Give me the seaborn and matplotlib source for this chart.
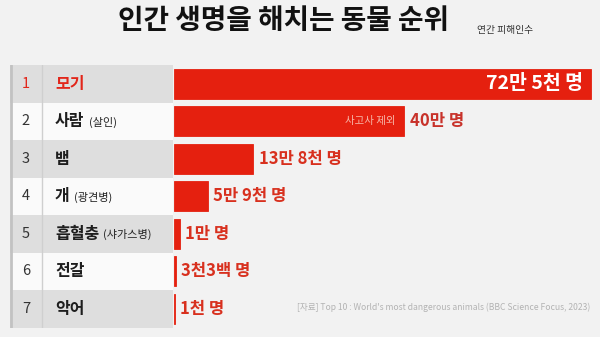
import matplotlib
matplotlib.use("Agg")
import matplotlib.pyplot as plt
import pandas as pd
import seaborn as sns

# Annual human deaths caused by animals
ranks = ["1", "2", "3", "4", "5", "6", "7"]
animals = ["모기", "사람", "뱀", "개", "흡혈충", "전갈", "악어"]
suffixes = ["", "(살인)", "", "(광견병)", "(샤가스병)", "", ""]
deaths = [725000, 400000, 138000, 59000, 10000, 3300, 1000]
value_labels = ["72만 5천 명", "40만 명", "13만 8천 명", "5만 9천 명", "1만 명", "3천3백 명", "1천 명"]
note_label = "사고사 제외"

title = "인간 생명을 해치는 동물 순위"
subtitle = "연간 피해인수"
source = "[자료] Top 10 : World's most dangerous animals (BBC Science Focus, 2023)"

RED = "#e5200f"
LABEL_RED = "#d8301e"
BG = "#f2f2f2"
ROW_GRAY = "#dedede"
ROW_WHITE = "#fafafa"

sns.set_style("white")
plt.rcParams["font.family"] = ["Noto Sans CJK KR", "DejaVu Sans"]

W, H = 600, 337
fig = plt.figure(figsize=(W / 100, H / 100), dpi=100)
fig.patch.set_facecolor(BG)


def frame(x0, y0, x1, y1):
    return [x0 / W, 1 - y1 / H, (x1 - x0) / W, (y1 - y0) / H]


df = pd.DataFrame({"animal": animals, "deaths": deaths})

# Bars
ax = fig.add_axes(frame(174, 65, 600, 327.5))
ax.set_facecolor("none")
sns.barplot(data=df, x="deaths", y="animal", orient="h", color=RED,
            saturation=1, width=0.8, ax=ax, linewidth=0.6, edgecolor=RED)
ax.set_xlim(0, deaths[0] * (600 - 174) / (591 - 174))
ax.set_ylim(len(animals) - 0.5, -0.5)
ax.axis("off")

for i, (v, lab) in enumerate(zip(deaths, value_labels)):
    if i == 0:
        ax.annotate(lab, xy=(v, i), xytext=(-6, 0), textcoords="offset points",
                    ha="right", va="center", fontsize=14, weight="bold",
                    color="white")
    else:
        ax.annotate(lab, xy=(v, i), xytext=(4, 0), textcoords="offset points",
                    ha="left", va="center", fontsize=12, weight="bold",
                    color=LABEL_RED if i != 1 else "#c8322a")
ax.annotate(note_label, xy=(deaths[1], 1), xytext=(-6.5, 0),
            textcoords="offset points", ha="right", va="center",
            fontsize=7.5, color="#f7b7a9")

# Rank / name table
tab = fig.add_axes(frame(10, 65, 173, 327.5))
tab.set_xlim(10, 173)
tab.set_ylim(len(animals) - 0.5, -0.5)
tab.axis("off")
for i in range(len(animals)):
    tab.axhspan(i - 0.5, i + 0.5, color=ROW_GRAY if i % 2 == 0 else ROW_WHITE,
                lw=0, zorder=0)
tab.axvline(41.5, color="#cfcfcf", lw=1, zorder=1)
tab.axvline(11, color="#c2c2c2", lw=2, zorder=1)

for i, (r, name, suf) in enumerate(zip(ranks, animals, suffixes)):
    top = i == 0
    col = "#e2261a" if top else "#1e1e1e"
    tab.text(26, i, r, ha="center", va="center", fontsize=10.5,
             color="#e2261a" if top else "#333333")
    t = tab.text(55, i, name, ha="left", va="center", fontsize=11.5,
                 weight="bold", color=col)
    if suf:
        tab.annotate(suf, xy=(1, 0.08), xycoords=t, xytext=(3, 0),
                     textcoords="offset points", ha="left", va="bottom",
                     fontsize=8, color="#222222")

# Titles and source
fig.text(283 / W, 1 - 21 / H, title, ha="center", va="center", fontsize=20,
         weight="bold", color="#111111")
fig.text(477 / W, 1 - 30 / H, subtitle, ha="left", va="center", fontsize=7,
         color="#333333")
fig.text(590 / W, 1 - 307 / H, source, ha="right", va="center", fontsize=6.2,
         color="#b3b3b3")

fig.savefig("out.png", dpi=100, facecolor=BG)
